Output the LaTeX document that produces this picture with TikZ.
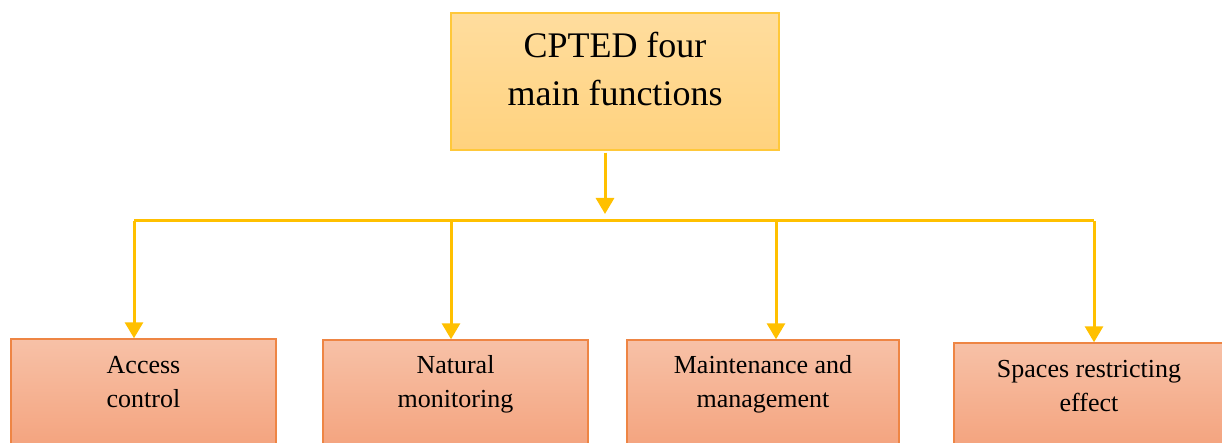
\documentclass[tikz,border=0pt]{standalone}
\usepackage{fontspec}
\setmainfont{Liberation Serif}
\usetikzlibrary{arrows.meta}
\definecolor{gold}{HTML}{FFC000}
\definecolor{goldedge}{HTML}{FFC83A}
\definecolor{goldtop}{HTML}{FFDD9E}
\definecolor{goldbot}{HTML}{FFD27E}
\definecolor{peachedge}{HTML}{EE8544}
\definecolor{peachtop}{HTML}{F7C1A7}
\definecolor{peachbot}{HTML}{F4A47F}
\tikzset{
  headbox/.style={draw=goldedge, line width=1.2pt, top color=goldtop, bottom color=goldbot,
    rectangle, inner sep=0pt},
  itembox/.style={draw=peachedge, line width=1.4pt, top color=peachtop, bottom color=peachbot,
    rectangle, inner sep=0pt},
  headtext/.style={align=center, font=\fontsize{36}{48}\selectfont, inner sep=0pt, anchor=base},
  itemtext/.style={align=center, font=\fontsize{26}{34}\selectfont, inner sep=0pt, anchor=base},
  conn/.style={draw=gold, line width=3pt},
  flow/.style={conn, -{Triangle[width=18pt,length=16pt]}},
}
\begin{document}
\begin{tikzpicture}[x=1pt,y=-1pt]
\useasboundingbox (0,0) rectangle (1222,443);

% top box
\node[headbox, minimum width=328pt, minimum height=137pt] (head) at (615,81.5) {};
\node[headtext] (headlbl) at (615,106) {CPTED four\\main functions};

% bottom boxes
\node[itembox, minimum width=265pt, minimum height=106pt] (b1) at (143.5,392) {};
\node[itembox, minimum width=265pt, minimum height=106pt] (b2) at (455.5,393) {};
\node[itembox, minimum width=272pt, minimum height=106pt] (b3) at (763,393) {};
\node[itembox, minimum width=270pt, minimum height=102pt] (b4) at (1089,394) {};

\node[itemtext] (t1) at (143.5,407) {Access\\control};
\node[itemtext] (t2) at (455.5,407) {Natural\\monitoring};
\node[itemtext] (t3) at (763,407) {Maintenance and\\management};
\node[itemtext] (t4) at (1089,411) {Spaces restricting\\effect};

% distribution bar
\coordinate (hub) at (605,221);
\coordinate (j1) at (134,221);
\coordinate (j2) at (451,221);
\coordinate (j3) at (776,221);
\coordinate (j4) at (1094,221);

\draw[flow, shorten >=7pt] (head.south -| hub) ++(0,2) -- (hub);
\draw[conn] (j1) -- (j4);
\draw[flow] (j1) -- (b1.north -| j1);
\draw[flow] (j2) -- (b2.north -| j2);
\draw[flow] (j3) -- (b3.north -| j3);
\draw[flow] (j4) -- (b4.north -| j4);
\end{tikzpicture}
\end{document}
